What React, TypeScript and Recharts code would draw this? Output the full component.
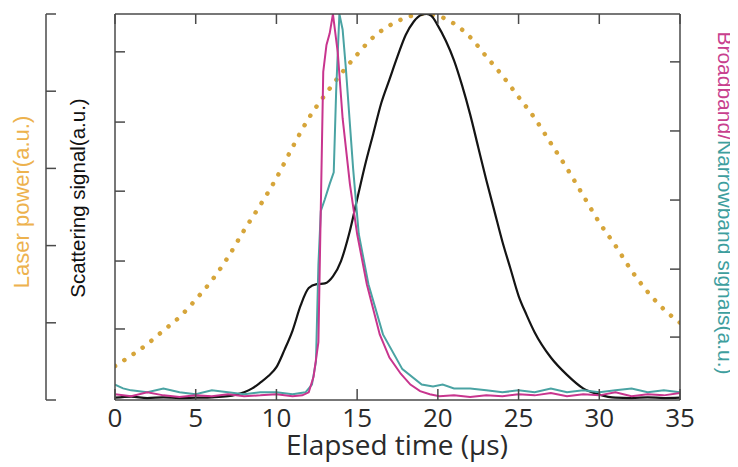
import React from 'react';
import { LineChart, Line, XAxis, YAxis, Label } from 'recharts';

// ---- tick values ----
const xTicks = [0, 5, 10, 15, 20, 25, 30, 35];
const laserTicks = [0, 0.2, 0.4, 0.6, 0.8, 1];
const scatTicks = [0.184, 0.36, 0.541, 0.72, 0.902];
const bandTicks = [0.163, 0.339, 0.518, 0.697, 0.876];

// ---- Laser power (dotted, outer left axis) ----
const laserTime = [0, 1, 2, 3, 4, 5, 6, 7, 8, 9, 10, 11, 12, 13, 14, 15, 16, 17, 18, 19, 20, 21, 22, 23, 24, 25, 26, 27, 28, 29, 30, 31, 32, 33, 34, 35];
const laserPower = [0.088, 0.115, 0.145, 0.18, 0.215, 0.26, 0.31, 0.37, 0.44, 0.505, 0.575, 0.655, 0.73, 0.79, 0.845, 0.895, 0.94, 0.97, 0.99, 1.0, 0.995, 0.975, 0.94, 0.89, 0.84, 0.785, 0.73, 0.665, 0.6, 0.53, 0.46, 0.4, 0.335, 0.28, 0.235, 0.2];

// ---- Scattering signal (black, inner left axis) ----
const scatTime = [0, 1, 2, 3, 4, 5, 6, 7, 7.5, 8, 8.5, 9, 9.5, 10, 10.5, 11, 11.5, 12, 12.5, 13, 13.5, 14, 14.5, 15, 15.5, 16, 16.5, 17, 17.5, 18, 18.5, 19, 19.3, 19.6, 20, 20.5, 21, 21.5, 22, 22.5, 23, 23.5, 24, 24.5, 25, 25.5, 26, 27, 28, 29, 30, 31, 32, 33, 34, 35];
const scatSignal = [0.006, 0.009, 0.005, 0.007, 0.005, 0.006, 0.007, 0.01, 0.014, 0.02, 0.03, 0.045, 0.062, 0.085, 0.13, 0.18, 0.245, 0.29, 0.3, 0.302, 0.32, 0.36, 0.43, 0.52, 0.61, 0.69, 0.77, 0.83, 0.89, 0.945, 0.98, 0.998, 1.0, 0.995, 0.97, 0.93, 0.88, 0.815, 0.74, 0.655, 0.57, 0.49, 0.41, 0.34, 0.27, 0.22, 0.175, 0.11, 0.065, 0.03, 0.014, 0.006, 0.005, 0.007, 0.005, 0.006];

// ---- Broadband signal (magenta, right axis) ----
const bbTime = [0, 1, 2, 3, 4, 5, 6, 7, 8, 9, 10, 11, 11.6, 12.0, 12.3, 12.6, 12.75, 12.9, 13.1, 13.3, 13.5, 13.8, 14.1, 14.55, 15.0, 15.6, 16.4, 17.0, 17.7, 18.3, 18.9, 19.5, 20.1, 21, 22, 23, 24, 25, 26, 27, 28, 29, 30, 31, 32, 33, 34, 35];
const bbSignal = [0.015, 0.01, 0.02, 0.012, 0.008, 0.012, 0.01, 0.015, 0.01, 0.012, 0.015, 0.01, 0.012, 0.02, 0.06, 0.15, 0.5, 0.85, 0.92, 0.95, 1.0, 0.9, 0.73, 0.56, 0.43, 0.3, 0.17, 0.11, 0.068, 0.04, 0.023, 0.015, 0.01, 0.012, 0.008, 0.012, 0.01, 0.015, 0.012, 0.018, 0.01, 0.015, 0.012, 0.02, 0.01, 0.015, 0.012, 0.018];

// ---- Narrowband signal (teal, right axis) ----
const nbTime = [0, 0.5, 1, 2, 3, 4, 5, 6, 7, 8, 9, 10, 11, 11.8, 12.2, 12.45, 12.6, 12.75, 13.0, 13.3, 13.55, 13.7, 13.9, 14.1, 14.3, 14.75, 15.1, 15.7, 16.6, 17.8, 19.0, 19.7, 20.3, 21, 22, 23, 24, 25, 26, 27, 28, 29, 30, 31, 32, 33, 34, 35];
const nbSignal = [0.04, 0.03, 0.025, 0.02, 0.03, 0.02, 0.015, 0.025, 0.02, 0.015, 0.02, 0.02, 0.015, 0.02, 0.04, 0.1, 0.35, 0.49, 0.52, 0.56, 0.59, 0.8, 1.0, 0.96, 0.86, 0.6, 0.43, 0.3, 0.17, 0.08, 0.04, 0.035, 0.04, 0.03, 0.03, 0.025, 0.02, 0.025, 0.02, 0.03, 0.02, 0.025, 0.02, 0.025, 0.03, 0.02, 0.025, 0.02];

const toRows = (ts: number[], vs: number[]) => ts.map((t, i) => ({ t, v: vs[i] }));
const laserData = toRows(laserTime, laserPower);
const scatData = toRows(scatTime, scatSignal);
const bbData = toRows(bbTime, bbSignal);
const nbData = toRows(nbTime, nbSignal);

const AXIS = '#4a4a4a';
const TICK_FONT = '"Open Sans", "Liberation Sans", sans-serif';
const SIDE_FONT = '"Liberation Sans", Arial, sans-serif';

const LeftInTick = (p: any) => (
  <line x1={p.x} x2={p.x + 10} y1={p.y} y2={p.y} stroke={AXIS} strokeWidth={1.5} />
);
const RightInTick = (p: any) => (
  <line x1={p.x - 10} x2={p.x} y1={p.y} y2={p.y} stroke={AXIS} strokeWidth={1.5} />
);
const TopInTick = (p: any) => (
  <line x1={p.x} x2={p.x} y1={p.y} y2={p.y + 10} stroke={AXIS} strokeWidth={1.5} />
);
const BottomTick = (p: any) => (
  <g>
    <line x1={p.x} x2={p.x} y1={p.y - 11} y2={p.y} stroke={AXIS} strokeWidth={1.5} />
    <text x={p.x} y={p.y + 27} textAnchor="middle" fontFamily={TICK_FONT} fontSize={26} fill="#2a2a2a">
      {p.payload.value}
    </text>
  </g>
);

export default function App() {
  return (
    <div>
      <style>{`html,body{overflow:hidden}.recharts-surface{overflow:visible}`}</style>
      <LineChart width={730} height={459} margin={{ top: 0, right: 18, bottom: 7, left: 8 }}>
        <XAxis
          xAxisId="bottom"
          dataKey="t"
          type="number"
          domain={[0, 35]}
          ticks={xTicks}
          interval={0}
          allowDataOverflow
          height={60}
          tickSize={0}
          tickMargin={0}
          tickLine={false}
          axisLine={{ stroke: AXIS, strokeWidth: 1.5 }}
          tick={BottomTick}
        >
          <Label
            content={() => (
              <text x={389} y={447} textAnchor="middle" fontFamily={TICK_FONT} fontSize={28} fill="#2a2a2a">
                Elapsed time (µs)
              </text>
            )}
          />
        </XAxis>
        <XAxis
          xAxisId="top"
          orientation="top"
          dataKey="t"
          type="number"
          domain={[0, 35]}
          ticks={xTicks}
          interval={0}
          allowDataOverflow
          height={6}
          tickSize={0}
          tickMargin={0}
          tickLine={false}
          axisLine={{ stroke: AXIS, strokeWidth: 1.5 }}
          tick={TopInTick}
        />
        <YAxis
          yAxisId="a_scat"
          orientation="left"
          type="number"
          domain={[0, 1]}
          ticks={scatTicks}
          interval={0}
          allowDataOverflow
          width={69}
          tickSize={0}
          tickMargin={0}
          tickLine={false}
          axisLine={{ stroke: AXIS, strokeWidth: 1.5 }}
          tick={LeftInTick}
        >
          <Label
            content={() => (
              <text x={77} y={190} transform="rotate(-90, 77, 190)" textAnchor="middle" fontFamily={SIDE_FONT} fontSize={20.5} fill="#111">
                Scattering signal(a.u.)
              </text>
            )}
          />
        </YAxis>
        <YAxis
          yAxisId="b_laser"
          orientation="left"
          type="number"
          domain={[0, 1]}
          ticks={laserTicks}
          interval={0}
          allowDataOverflow
          width={30}
          tickSize={0}
          tickMargin={0}
          tickLine={false}
          axisLine={{ stroke: AXIS, strokeWidth: 1.5 }}
          tick={LeftInTick}
        >
          <Label
            content={() => (
              <text x={21} y={194} transform="rotate(-90, 21, 194)" textAnchor="middle" fontFamily={SIDE_FONT} fontSize={22} fill="#EDB24E">
                Laser power(a.u.)
              </text>
            )}
          />
        </YAxis>
        <YAxis
          yAxisId="c_band"
          orientation="right"
          type="number"
          domain={[0, 1]}
          ticks={bandTicks}
          interval={0}
          allowDataOverflow
          width={40}
          tickSize={0}
          tickMargin={0}
          tickLine={false}
          axisLine={{ stroke: AXIS, strokeWidth: 1.5 }}
          tick={RightInTick}
        >
          <Label
            content={() => (
              <text x={710} y={195} transform="rotate(90, 710, 195)" textAnchor="middle" fontFamily={SIDE_FONT} fontSize={21}>
                <tspan fill="#C8408E">Broadband/</tspan>
                <tspan fill="#3E9E9E">Narrowband signals(a.u.)</tspan>
              </text>
            )}
          />
        </YAxis>

        <Line
          data={laserData}
          dataKey="v"
          xAxisId="bottom"
          yAxisId="b_laser"
          type="monotone"
          stroke="#D6A53A"
          strokeWidth={4.5}
          strokeDasharray="0.1 11"
          strokeLinecap="round"
          dot={false}
          activeDot={false}
          isAnimationActive={false}
        />
        <Line
          data={scatData}
          dataKey="v"
          xAxisId="bottom"
          yAxisId="a_scat"
          type="monotone"
          stroke="#141414"
          strokeWidth={2.2}
          dot={false}
          activeDot={false}
          isAnimationActive={false}
        />
        <Line
          data={nbData}
          dataKey="v"
          xAxisId="bottom"
          yAxisId="c_band"
          type="linear"
          stroke="#4AA3A3"
          strokeWidth={2}
          dot={false}
          activeDot={false}
          isAnimationActive={false}
        />
        <Line
          data={bbData}
          dataKey="v"
          xAxisId="bottom"
          yAxisId="c_band"
          type="linear"
          stroke="#C8358E"
          strokeWidth={2}
          dot={false}
          activeDot={false}
          isAnimationActive={false}
        />
      </LineChart>
    </div>
  );
}
